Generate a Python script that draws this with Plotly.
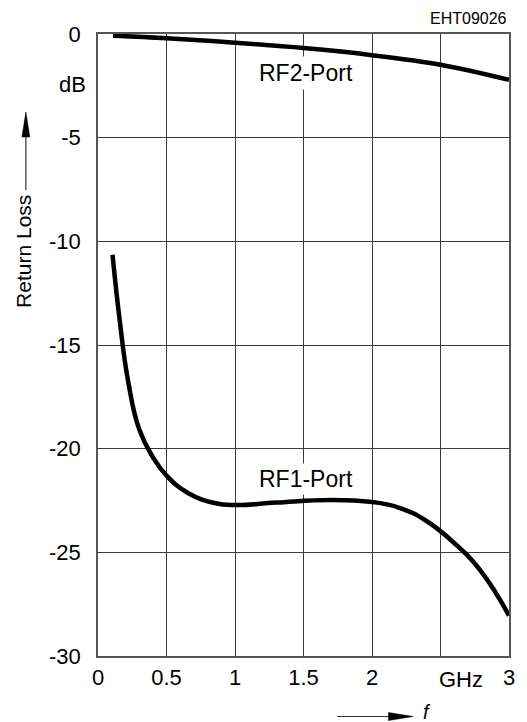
import plotly.graph_objects as go

# ---- data ----
rf1_f = [0.106, 0.16, 0.22, 0.3, 0.4, 0.5, 0.66, 0.85, 1.0, 1.3, 1.7, 2.0, 2.2, 2.4, 2.6, 2.8, 3.0]
rf1_db = [-10.65, -13.9, -16.75, -19.05, -20.4, -21.3, -22.15, -22.62, -22.72, -22.6, -22.47, -22.57, -22.85,
          -23.5, -24.55, -25.95, -28.05]

rf2_f = [0.11, 0.5, 1.0, 1.5, 2.0, 2.5, 3.0]
rf2_db = [-0.08, -0.2, -0.42, -0.68, -1.02, -1.48, -2.21]

x_tickvals = [0, 0.5, 1, 1.5, 2, 2.5, 3]
x_ticktext = ["0", "0.5", "1", "1.5", "2", "", "3"]
y_tickvals = [0, -5, -10, -15, -20, -25, -30]
y_ticktext = ["0", "-5", "-10", "-15", "-20", "-25", "-30"]

FONT = "Liberation Sans, Arial, Helvetica, sans-serif"

W, H = 527, 722
ML, MR, MT, MB = 98, 13, 34, 66
PW, PH = W - ML - MR, H - MT - MB


def px_x(p):
    return (p - ML) / PW


def px_y(p):
    return (H - MB - p) / PH


fig = go.Figure()
fig.add_trace(go.Scatter(x=rf1_f, y=rf1_db, mode="lines",
                         line=dict(color="black", width=4.5, shape="spline", smoothing=1.3),
                         showlegend=False, hoverinfo="skip"))
fig.add_trace(go.Scatter(x=rf2_f, y=rf2_db, mode="lines",
                         line=dict(color="black", width=4.5, shape="spline", smoothing=1.0),
                         showlegend=False, hoverinfo="skip"))

ann = []
# curve labels with white background covering the grid
ann.append(dict(x=1.52, y=-1.88, xref="x", yref="y", text="RF2-Port", showarrow=False,
                font=dict(family=FONT, size=23, color="black"), bgcolor="white", borderpad=3))
ann.append(dict(x=1.52, y=-21.48, xref="x", yref="y", text="RF1-Port", showarrow=False,
                font=dict(family=FONT, size=23, color="black"), bgcolor="white", borderpad=2))
# unit labels
ann.append(dict(x=px_x(88), y=px_y(85), xref="paper", yref="paper", text="dB", showarrow=False,
                xanchor="right", yanchor="middle", font=dict(family=FONT, size=22, color="black")))
ann.append(dict(x=2.65, y=px_y(679), xref="x", yref="paper", text="GHz", showarrow=False,
                xanchor="center", yanchor="middle", font=dict(family=FONT, size=22, color="black")))
# code
ann.append(dict(x=1.0, y=px_y(19), xref="paper", yref="paper", text="EHT09026", showarrow=False,
                xanchor="right", yanchor="middle", font=dict(family=FONT, size=16, color="black")))
# y axis title
ann.append(dict(x=px_x(23), y=px_y(251), xref="paper", yref="paper", text="Return Loss", showarrow=False,
                textangle=-90, xanchor="center", yanchor="middle",
                font=dict(family=FONT, size=21, color="black")))
# f
ann.append(dict(x=px_x(425), y=px_y(712), xref="paper", yref="paper", text="<i>f</i>", showarrow=False,
                xanchor="left", yanchor="middle", font=dict(family=FONT, size=20, color="black")))

# arrows (decoration) in paper coordinates
shapes = []
shapes.append(dict(type="line", xref="paper", yref="paper",
                   x0=px_x(25), x1=px_x(25), y0=px_y(190), y1=px_y(134),
                   line=dict(color="#333333", width=1.2)))
shapes.append(dict(type="path", xref="paper", yref="paper",
                   path="M {a},{b} L {c},{d} L {e},{d} Z".format(
                       a=px_x(25), b=px_y(112), c=px_x(21), d=px_y(137), e=px_x(29)),
                   fillcolor="black", line=dict(color="black", width=0.5)))
shapes.append(dict(type="line", xref="paper", yref="paper",
                   x0=px_x(340), x1=px_x(395), y0=px_y(716.5), y1=px_y(716.5),
                   line=dict(color="#333333", width=1.2)))
shapes.append(dict(type="path", xref="paper", yref="paper",
                   path="M {a},{b} L {c},{d} L {c},{e} Z".format(
                       a=px_x(417), b=px_y(716.5), c=px_x(392), d=px_y(712.5), e=px_y(720.5)),
                   fillcolor="black", line=dict(color="black", width=0.5)))

fig.update_layout(
    width=W, height=H,
    margin=dict(l=ML, r=MR, t=MT, b=MB, pad=0),
    paper_bgcolor="white", plot_bgcolor="white",
    annotations=ann, shapes=shapes,
    font=dict(family=FONT, color="black"),
    xaxis=dict(range=[0, 3], tickvals=x_tickvals, ticktext=x_ticktext, showgrid=True,
               gridcolor="#3a3a3a", gridwidth=1, zeroline=False, showline=True, mirror=True,
               linecolor="#555555", linewidth=1.5, ticks="", ticklabelstandoff=1,
               tickfont=dict(family=FONT, size=22, color="black"), fixedrange=True),
    yaxis=dict(range=[-30, 0], tickvals=y_tickvals, ticktext=y_ticktext, showgrid=True,
               gridcolor="#3a3a3a", gridwidth=1, zeroline=False, showline=True, mirror=True,
               linecolor="#555555", linewidth=1.5, ticks="", ticklabelstandoff=11,
               tickfont=dict(family=FONT, size=22, color="black"), fixedrange=True),
)

fig.write_html("out.html")
